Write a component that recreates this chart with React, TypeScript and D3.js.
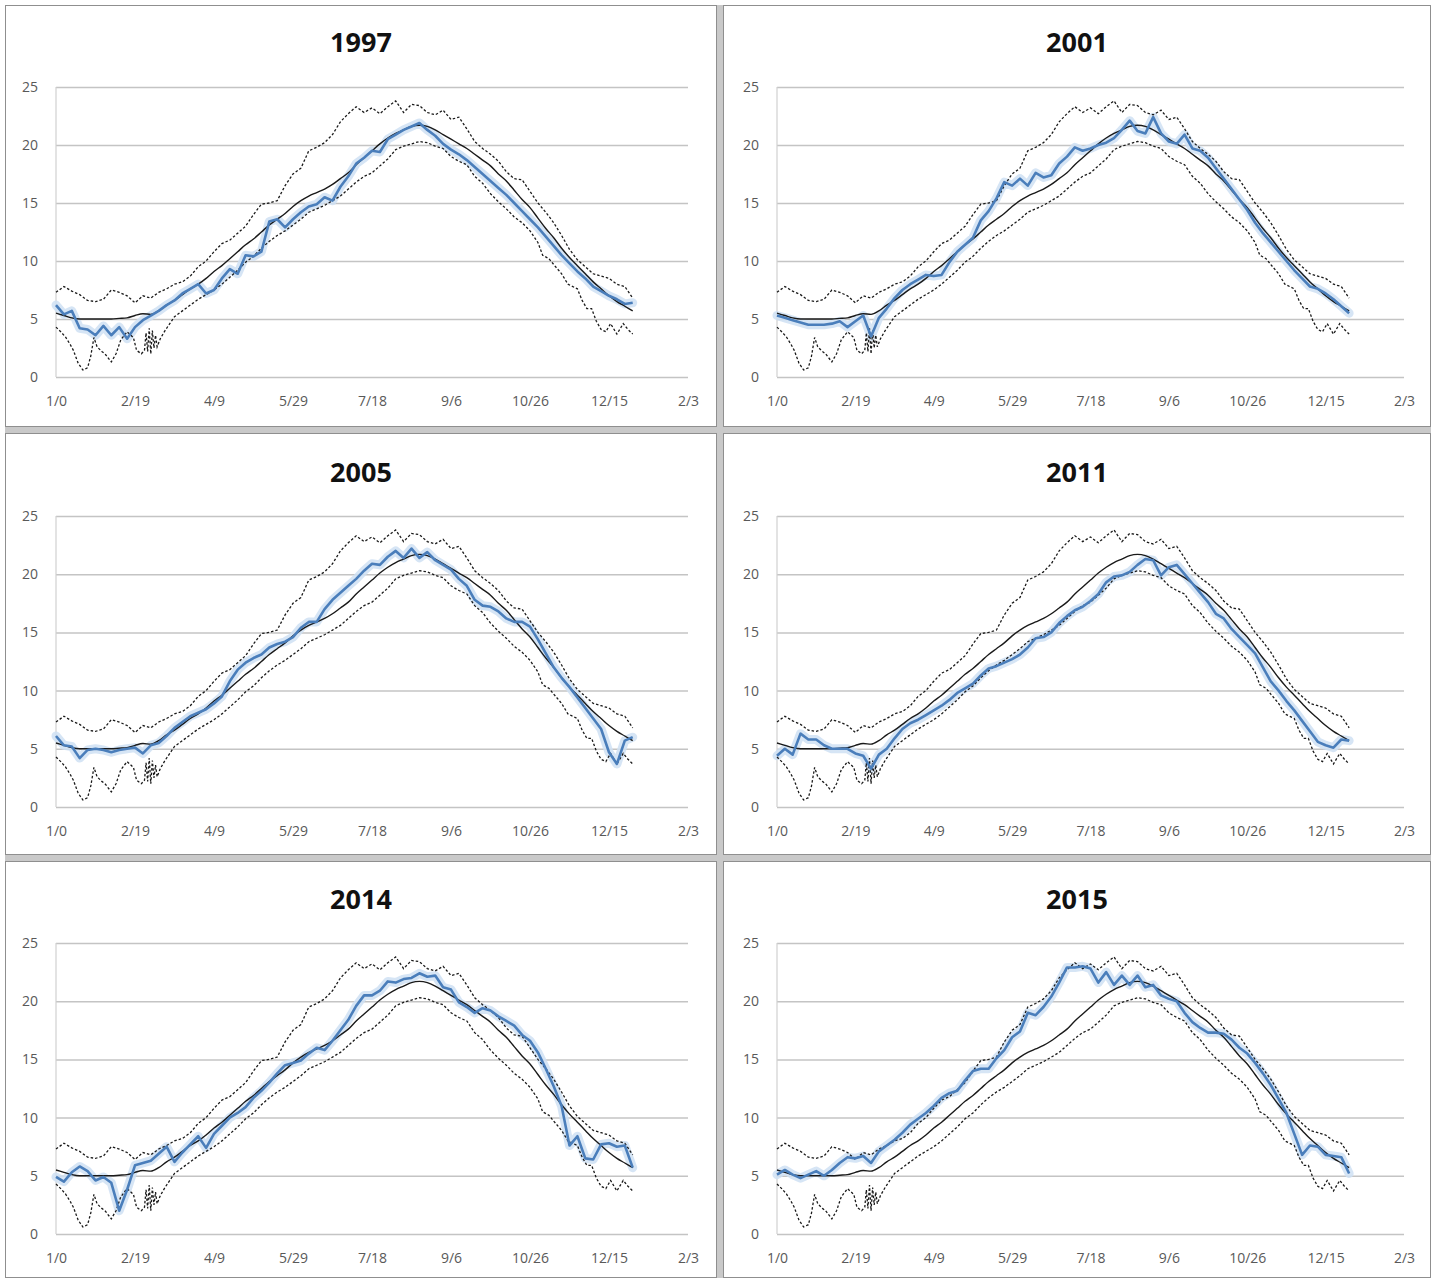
import { Component } from 'react';
import * as d3 from 'd3';

// day of year (Excel serial style: 1/0 = day 0)
const days = [
  0, 5, 10, 15, 20, 25, 30, 35, 40, 45,
  50, 55, 60, 65, 70, 75, 80, 85, 90, 95,
  100, 105, 110, 115, 120, 125, 130, 135, 140, 145,
  150, 155, 160, 165, 170, 175, 180, 185, 190, 195,
  200, 205, 210, 215, 220, 225, 230, 235, 240, 245,
  250, 255, 260, 265, 270, 275, 280, 285, 290, 295,
  300, 305, 310, 315, 320, 325, 330, 335, 340, 345,
  350, 355, 360, 365,
];

const meanTemp = [
  5.5, 5.3, 5.1, 5.0, 5.0, 5.0, 5.0, 5.0, 5.05, 5.1,
  5.3, 5.45, 5.4, 5.7, 6.2, 6.6, 7.1, 7.6, 8.0, 8.5,
  9.1, 9.6, 10.2, 10.8, 11.4, 11.9, 12.5, 13.1, 13.6, 14.1,
  14.7, 15.2, 15.6, 15.9, 16.2, 16.6, 17.1, 17.6, 18.3, 18.9,
  19.5, 20.1, 20.6, 21.0, 21.3, 21.6, 21.7, 21.6, 21.3, 20.9,
  20.5, 20.1, 19.7, 19.2, 18.7, 18.2, 17.5, 16.9, 16.1, 15.3,
  14.6, 13.7, 12.8, 12.0, 11.1, 10.3, 9.6, 8.9, 8.2, 7.6,
  7.0, 6.5, 6.1, 5.7,
];

const maxTemp = [
  7.3, 7.8, 7.4, 7.1, 6.6, 6.5, 6.7, 7.5, 7.3, 7.0,
  6.4, 7.0, 6.8, 7.3, 7.6, 8.0, 8.2, 8.7, 9.5, 10.0,
  10.8, 11.5, 11.8, 12.4, 13.0, 14.0, 14.9, 15.0, 15.2, 16.5,
  17.5, 18.0, 19.5, 19.8, 20.2, 20.9, 22.0, 22.7, 23.3, 22.8,
  23.2, 22.7, 23.3, 23.8, 22.8, 23.5, 23.4, 22.8, 22.6, 23.0,
  22.2, 22.4, 21.4, 20.3, 19.7, 19.2, 18.6, 17.7, 17.1, 17.0,
  16.0, 15.0, 14.2, 13.3, 12.2, 11.0, 10.1, 9.5, 8.9, 8.7,
  8.5, 8.0, 7.8, 6.8,
];

// the lower envelope is read more finely (it has a scribble near the end of February)
const minDays = [
  0, 3, 6, 9, 11, 14, 17, 20, 22, 24,
  26, 29, 31, 35, 38, 41, 45, 49, 51, 54,
  56, 57, 58, 59, 60, 61, 62, 63, 64, 66,
  69, 72, 75, 80, 85, 90, 95, 100, 105, 110,
  115, 120, 125, 130, 135, 140, 145, 150, 155, 160,
  165, 170, 175, 180, 185, 190, 195, 200, 205, 210,
  215, 220, 225, 230, 235, 240, 245, 250, 255, 260,
  265, 270, 275, 280, 285, 290, 295, 300, 305, 308,
  312, 315, 320, 324, 330, 333, 336, 339, 342, 345,
  348, 351, 355, 359, 362, 365,
];
const minTemp = [
  4.3, 3.9, 3.45, 2.8, 2.3, 1.2, 0.6, 0.8, 1.8, 3.4,
  2.6, 2.2, 2.0, 1.3, 2.0, 3.2, 3.9, 3.4, 2.3, 2.0,
  2.3, 3.8, 2.2, 4.2, 2.0, 4.0, 2.5, 3.6, 2.6, 3.3,
  4.0, 4.6, 5.2, 5.7, 6.2, 6.7, 7.1, 7.5, 8.0, 8.6,
  9.2, 9.9, 10.4, 11.1, 11.7, 12.2, 12.6, 13.1, 13.6, 14.2,
  14.5, 14.8, 15.2, 15.6, 16.2, 16.8, 17.3, 17.6, 18.2, 18.8,
  19.6, 19.9, 20.1, 20.3, 20.2, 19.9, 19.7, 19.0, 18.6, 18.3,
  17.3, 16.7, 15.8, 15.1, 14.5, 13.8, 13.3, 12.6, 11.6, 10.5,
  10.2, 9.7, 8.9, 8.0, 7.6, 6.6, 5.9, 5.9, 4.8, 4.1,
  3.9, 4.6, 3.7, 4.6, 4.1, 3.7,
];

const t1997 = [
  6.2, 5.4, 5.7, 4.2, 4.1, 3.6, 4.4, 3.6, 4.3, 3.3,
  4.3, 4.9, 5.3, 5.7, 6.2, 6.6, 7.2, 7.6, 8.0, 7.2,
  7.5, 8.5, 9.3, 8.9, 10.5, 10.4, 10.8, 13.4, 13.6, 12.9,
  13.6, 14.2, 14.7, 14.9, 15.5, 15.2, 16.4, 17.3, 18.4, 18.9,
  19.5, 19.4, 20.5, 20.9, 21.3, 21.6, 21.9, 21.3, 20.8, 20.1,
  19.6, 19.2, 18.7, 18.1, 17.5, 16.9, 16.3, 15.7, 15.0, 14.3,
  13.6, 12.9, 12.1, 11.3, 10.5, 9.8, 9.1, 8.5, 7.8, 7.4,
  7.0, 6.7, 6.3, 6.4,
];

const t2001 = [
  5.3, 5.1, 4.9, 4.7, 4.5, 4.5, 4.5, 4.6, 4.8, 4.3,
  4.8, 5.3, 3.5, 5.1, 5.9, 6.8, 7.5, 8.0, 8.4, 8.8,
  8.7, 8.8, 9.9, 10.8, 11.4, 12.0, 13.5, 14.3, 15.4, 16.8,
  16.5, 17.1, 16.5, 17.6, 17.2, 17.4, 18.4, 19.0, 19.8, 19.5,
  19.7, 20.0, 20.2, 20.6, 21.3, 22.1, 21.2, 21.0, 22.4, 21.0,
  20.3, 20.1, 20.9, 19.7, 19.5, 18.9, 18.0, 17.1, 16.2, 15.3,
  14.4, 13.3, 12.4, 11.6, 10.8, 10.0, 9.2, 8.5, 7.8, 7.6,
  7.2, 6.7, 6.1, 5.5,
];

const t2005 = [
  6.1, 5.3, 5.2, 4.2, 4.9, 5.0, 4.9, 4.7, 4.9, 5.0,
  5.1, 4.6, 5.3, 5.5, 6.1, 6.8, 7.3, 7.8, 8.1, 8.4,
  8.9, 9.5, 10.8, 11.8, 12.4, 12.8, 13.1, 13.7, 14.0, 14.2,
  14.6, 15.4, 15.9, 15.9, 17.0, 17.8, 18.4, 19.0, 19.6, 20.3,
  20.9, 20.8, 21.5, 22.0, 21.4, 22.2, 21.4, 21.9, 21.2, 20.8,
  20.4, 19.6, 19.0, 17.8, 17.3, 17.2, 16.8, 16.2, 15.9, 15.9,
  15.5, 14.4, 13.2, 12.0, 11.1, 10.3, 9.4, 8.5, 7.6, 6.7,
  4.7, 3.7, 5.7, 6.0,
];

const t2011 = [
  4.4, 5.0, 4.5, 6.3, 5.8, 5.8, 5.3, 5.0, 5.0, 5.0,
  4.6, 4.4, 3.3, 4.5, 5.0, 5.9, 6.7, 7.2, 7.5, 7.9,
  8.3, 8.7, 9.2, 9.8, 10.2, 10.6, 11.3, 11.9, 12.1, 12.4,
  12.7, 13.1, 13.7, 14.5, 14.6, 15.0, 15.8, 16.4, 16.9, 17.2,
  17.7, 18.3, 19.3, 19.8, 19.9, 20.2, 20.8, 21.3, 21.2, 19.9,
  20.6, 20.8, 20.0, 19.2, 18.4, 17.6, 16.6, 16.2, 15.3, 14.6,
  13.9, 13.2, 12.0, 10.8, 10.0, 9.1, 8.3, 7.4, 6.5, 5.6,
  5.3, 5.1, 5.8, 5.7,
];

const t2014 = [
  4.9, 4.5, 5.3, 5.8, 5.4, 4.6, 4.9, 4.4, 2.0, 3.8,
  5.9, 6.1, 6.3, 6.9, 7.5, 6.2, 7.0, 7.7, 8.4, 7.4,
  8.6, 9.3, 10.0, 10.4, 10.9, 11.7, 12.3, 13.0, 13.8, 14.5,
  14.7, 14.9, 15.5, 16.0, 15.8, 16.6, 17.5, 18.4, 19.6, 20.5,
  20.5, 20.9, 21.7, 21.6, 21.9, 22.0, 22.4, 22.1, 22.2, 21.2,
  21.0, 19.9, 19.5, 19.0, 19.4, 19.2, 18.7, 18.3, 17.9, 17.1,
  16.6, 15.6, 14.2, 12.7, 11.0, 7.6, 8.4, 6.5, 6.4, 7.7,
  7.8, 7.5, 7.6, 5.7,
];

const t2015 = [
  5.1, 5.5, 5.1, 4.8, 5.1, 5.4, 5.0, 5.5, 6.1, 6.6,
  6.5, 6.7, 6.1, 7.1, 7.6, 8.1, 8.7, 9.4, 9.9, 10.4,
  11.0, 11.7, 12.1, 12.3, 13.2, 14.0, 14.2, 14.2, 15.1, 15.8,
  16.9, 17.4, 19.0, 18.8, 19.5, 20.4, 21.6, 22.9, 22.9, 23.0,
  22.8, 21.6, 22.5, 21.4, 22.2, 21.4, 22.2, 21.2, 21.4, 20.5,
  20.2, 20.0, 19.0, 18.2, 17.7, 17.3, 17.3, 17.2, 16.7, 16.0,
  15.5, 14.7, 13.8, 12.8, 11.6, 10.4, 8.6, 6.8, 7.6, 7.5,
  6.8, 6.7, 6.6, 5.2,
];

const years = ['1997', '2001', '2005', '2011', '2014', '2015'];
const yearSeries = [t1997, t2001, t2005, t2011, t2014, t2015];

const xTickDays = [0, 50, 100, 150, 200, 250, 300, 350, 400];
const xTickLabels = ['1/0', '2/19', '4/9', '5/29', '7/18', '9/6', '10/26', '12/15', '2/3'];
const yTicks = [0, 5, 10, 15, 20, 25];

const W = 1431;
const H = 1278;

class App extends Component {
  componentDidMount() {
    const svg = d3.select('.chart_root');
    svg.selectAll('*').remove();

    // panel frames (columns x rows)
    const panelX = [5, 723];
    const panelW = [712, 708];
    const panelY = [5, 433, 861];
    const panelH = [422, 422, 417];

    // plot area per column / row
    const plotLeft = [56, 777];
    const plotRight = [688, 1404];
    const plotTop = [87, 516, 943];
    const plotBottom = [377, 807, 1234];
    const titleY = [42, 472, 899];

    svg.append('rect').attr('width', W).attr('height', H).attr('fill', '#ffffff');

    // grey separators between the panels
    svg.append('rect').attr('x', 717).attr('y', 5).attr('width', 6).attr('height', H - 5).attr('fill', '#c9c9c9');
    svg.append('rect').attr('x', 5).attr('y', 427).attr('width', W - 5).attr('height', 6).attr('fill', '#c9c9c9');
    svg.append('rect').attr('x', 5).attr('y', 855).attr('width', W - 5).attr('height', 6).attr('fill', '#c9c9c9');

    years.forEach((year, i) => {
      const c = i % 2;
      const r = Math.floor(i / 2);
      const g = svg.append('g');

      g.append('rect')
        .attr('x', panelX[c] + 0.5)
        .attr('y', panelY[r] + 0.5)
        .attr('width', panelW[c] - 1)
        .attr('height', panelH[r] - 1)
        .attr('fill', '#ffffff')
        .attr('stroke', '#8f8f8f');

      const xScale = d3.scaleLinear().domain([0, 400]).range([plotLeft[c], plotRight[c]]);
      const yScale = d3.scaleLinear().domain([0, 25]).range([plotBottom[r], plotTop[r]]);
      const innerWidth = plotRight[c] - plotLeft[c];

      const yAxis = d3.axisLeft(yScale).tickValues(yTicks).tickSize(-innerWidth).tickPadding(18);
      const yg = g.append('g').attr('transform', `translate(${plotLeft[c]}, 0)`).call(yAxis);
      yg.select('.domain').remove();
      yg.selectAll('line').attr('stroke', '#c4c4c4').attr('stroke-width', 1.5);
      yg.selectAll('text')
        .attr('fill', '#595959')
        .style('font-family', '"Open Sans", "Liberation Sans", sans-serif')
        .style('font-size', '14px');

      g.append('line')
        .attr('x1', plotLeft[c]).attr('x2', plotLeft[c])
        .attr('y1', plotTop[r]).attr('y2', plotBottom[r])
        .attr('stroke', '#d0d0d0').attr('stroke-width', 1.2);

      const xAxis = d3.axisBottom(xScale)
        .tickValues(xTickDays)
        .tickFormat((d, k) => xTickLabels[k])
        .tickSize(0)
        .tickPadding(19);
      const xg = g.append('g').attr('transform', `translate(0, ${plotBottom[r]})`).call(xAxis);
      xg.select('.domain').remove();
      xg.selectAll('text')
        .attr('fill', '#595959')
        .style('font-family', '"Open Sans", "Liberation Sans", sans-serif')
        .style('font-size', '14px');

      g.append('text')
        .attr('x', panelX[c] + panelW[c] / 2)
        .attr('y', titleY[r])
        .attr('dy', '0.36em')
        .attr('text-anchor', 'middle')
        .style('font-family', '"Open Sans", "Liberation Sans", sans-serif')
        .style('font-size', '27px')
        .style('font-weight', 'bold')
        .attr('fill', '#111')
        .text(year);

      const line = d3.line<number>()
        .x((d, k) => xScale(days[k]))
        .y(d => yScale(d));
      const minLine = d3.line<number>()
        .x((d, k) => xScale(minDays[k]))
        .y(d => yScale(d));
      const smoothLine = d3.line<number>()
        .x((d, k) => xScale(days[k]))
        .y(d => yScale(d))
        .curve(d3.curveMonotoneX);

      const series = yearSeries[i];

      // soft glow under the year line
      g.append('path')
        .attr('d', line(series))
        .attr('fill', 'none')
        .attr('stroke', '#cfe0f3')
        .attr('stroke-width', 9)
        .attr('stroke-linejoin', 'round')
        .attr('stroke-linecap', 'round')
        .attr('opacity', 0.85);

      g.append('path')
        .attr('d', line(maxTemp))
        .attr('fill', 'none')
        .attr('stroke', '#1a1a1a')
        .attr('stroke-width', 1.3)
        .attr('stroke-dasharray', '2.5,2');

      g.append('path')
        .attr('d', minLine(minTemp))
        .attr('fill', 'none')
        .attr('stroke', '#1a1a1a')
        .attr('stroke-width', 1.3)
        .attr('stroke-dasharray', '2.5,2');

      g.append('path')
        .attr('d', smoothLine(meanTemp))
        .attr('fill', 'none')
        .attr('stroke', '#1a1a1a')
        .attr('stroke-width', 1.4);

      g.append('path')
        .attr('d', line(series))
        .attr('fill', 'none')
        .attr('stroke', '#4a7ebb')
        .attr('stroke-width', 2.6)
        .attr('stroke-linejoin', 'round');
    });
  }

  render() {
    return (
      <svg
        className='chart_root'
        width={W}
        height={H}
        style={{ position: 'absolute', left: 0, top: 0 }}
      ></svg>
    );
  }
}

export default App;
